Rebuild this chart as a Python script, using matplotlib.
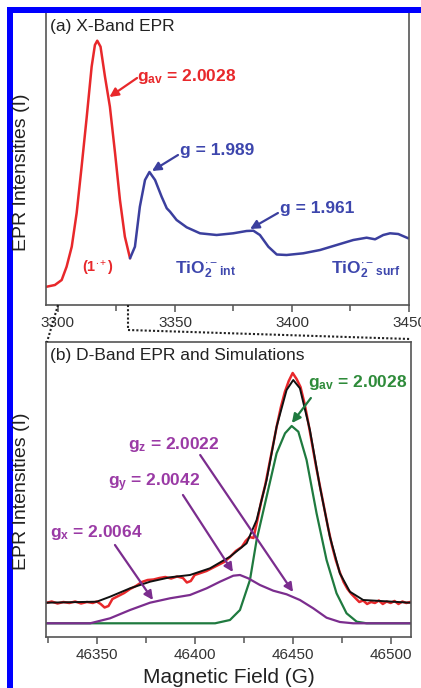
import matplotlib
matplotlib.use("Agg")
import matplotlib.pyplot as plt
from matplotlib.lines import Line2D
from matplotlib.patches import Rectangle

plt.rcParams["font.family"] = ["Liberation Sans", "DejaVu Sans"]
plt.rcParams["mathtext.fontset"] = "custom"
plt.rcParams["mathtext.rm"] = "Liberation Sans"
plt.rcParams["mathtext.bf"] = "Liberation Sans:bold"
plt.rcParams["mathtext.it"] = "Liberation Sans:italic"

# ---- panel (a): X-band spectrum ----
xband_red_field = [3295.2, 3298.7, 3301.6, 3303.7, 3305.9, 3308.0, 3310.1, 3312.3, 3314.4,
                   3315.8, 3316.8, 3318.2, 3320.1, 3322.2, 3324.4, 3326.5, 3328.6, 3330.8]
xband_red_int = [18.3, 20, 25, 38.3, 58.3, 92, 138, 188, 238.3,
                 260, 264.3, 258.3, 228.3, 198.3, 152, 105, 68.3, 46.7]

xband_blue_field = [3330.8, 3332.9, 3335.0, 3337.2, 3339.1, 3341.5, 3344.3, 3346.5, 3347.9,
                    3350.7, 3355.0, 3360.7, 3367.8, 3374.9, 3380.6, 3383.5, 3386.3, 3389.9,
                    3393.5, 3397.7, 3404.8, 3412.0, 3419.1, 3426.2, 3431.9, 3435.5, 3439.0,
                    3441.9, 3445.4, 3449.7]
xband_blue_int = [46.7, 58.3, 98.3, 125, 133, 125, 108.3, 96.7, 93.3,
                  85, 77.7, 71.7, 70, 71.7, 74, 74.3, 70, 58.3,
                  50.5, 50, 51.7, 55, 60, 65, 67.3, 65.7, 70,
                  71.7, 71, 66.7]

# ---- panel (b): D-band spectrum and simulations ----
dband_exp_field = [46324, 46327, 46330, 46333, 46336, 46339, 46342, 46345, 46348, 46350,
                   46352, 46354, 46356, 46358, 46361, 46364, 46367, 46370, 46373, 46376,
                   46379, 46382, 46385, 46388, 46391, 46394, 46396, 46398, 46400, 46403,
                   46406, 46409, 46412, 46415, 46418, 46421, 46424, 46426, 46428, 46430,
                   46432, 46434, 46436, 46438, 46440, 46442, 46444, 46446, 46448, 46450,
                   46452, 46454, 46456, 46458, 46460, 46462, 46464, 46466, 46468, 46470,
                   46472, 46474, 46476, 46478, 46480, 46482, 46484, 46486, 46488, 46490,
                   46492, 46494, 46496, 46498, 46500, 46502, 46504, 46506, 46508, 46510]
dband_exp_int = [34, 35.5, 33.5, 35, 34, 35.5, 33.5, 35, 34, 35.5,
                 33, 29.5, 31, 38, 41, 44, 48, 51, 55, 57,
                 57.5, 59, 60, 58.5, 60.5, 59, 54.5, 56, 62, 64,
                 66, 69, 72, 75, 80, 86, 90, 96, 100, 99,
                 117, 136, 152, 172, 192, 212, 230, 245, 256, 264,
                 258, 250, 234, 214, 192, 170, 150, 130, 110, 92,
                 77, 65, 55, 48, 43, 39, 35, 36.5, 33, 35,
                 34, 36.5, 33, 35.5, 34, 36, 33, 35.5, 34, 35]

dband_sim_field = [46324.1, 46350.0, 46356.8, 46367.0, 46377.2, 46387.4, 46397.6, 46407.8,
                   46418.0, 46426.5, 46431.6, 46436.7, 46441.8, 46446.9, 46450.3, 46453.7,
                   46458.8, 46463.9, 46469.0, 46474.1, 46479.2, 46486.0, 46509.9]
dband_sim_int = [34.3, 35.3, 40.3, 48.7, 55.3, 59.7, 62, 68.7,
                 80.3, 93.7, 117, 157, 210.3, 247, 257, 248.7,
                 207, 150.3, 100.3, 63.7, 45.3, 37, 34.3]

gav_field = [46324.1, 46410.4, 46418.0, 46423.1, 46428.2, 46431.6, 46436.7, 46441.8,
             46446.1, 46449.5, 46452.9, 46457.1, 46462.2, 46467.3, 46472.4, 46477.5,
             46482.7, 46487.8, 46509.9]
gav_int = [13.7, 13.7, 17, 27, 57, 97, 140.3, 183.7,
           203.7, 211, 205.3, 177, 123.7, 77, 43.7, 23.7,
           15.3, 13.7, 13.7]

rhombic_field = [46324.1, 46346.6, 46356.8, 46367.0, 46377.2, 46387.4, 46397.6, 46406.1,
                 46412.9, 46419.7, 46423.1, 46427.3, 46433.3, 46440.1, 46446.9, 46453.7,
                 46460.5, 46467.3, 46474.1, 46480.9, 46509.9]
rhombic_int = [13.7, 13.7, 18.7, 27, 34.3, 38.7, 42, 48.7,
               55.3, 61.3, 62, 58.7, 52, 46.3, 42.7, 37,
               28.7, 19.3, 15, 13.7, 13.7]

xband_ticks = [3300, 3350, 3400, 3450]
dband_ticks = [46350, 46400, 46450, 46500]

RED = "#e8282b"
BLUE = "#3b3f9e"
BLUE_TXT = "#3d46ad"
GREEN = "#1f7a3f"
GREEN_TXT = "#2e8b3a"
PURPLE = "#7b2d8e"
PURPLE_TXT = "#9a3aa5"
SPINE = "#555555"
TICK_TXT = "#333333"

W, H = 421, 688
fig = plt.figure(figsize=(W / 100, H / 100), dpi=100)
fig.patch.set_facecolor("white")


def px_axes(left, top, right, bottom):
    return fig.add_axes([left / W, 1 - bottom / H, (right - left) / W, (bottom - top) / H])


def style_axes(ax, ticks):
    for side in ax.spines.values():
        side.set_color(SPINE)
        side.set_linewidth(1.2)
    ax.set_yticks([])
    ax.set_xticks(ticks)
    ax.tick_params(axis="x", direction="out", length=5, width=1.1, color=SPINE,
                   labelsize=11, labelcolor=TICK_TXT, pad=3)
    ax.tick_params(axis="x", which="minor", direction="out", length=4, width=1.1, color=SPINE)


def arrow(ax, tail, head, color):
    ax.annotate("", xy=head, xytext=tail,
                arrowprops=dict(arrowstyle="-|>", color=color, lw=1.6, mutation_scale=13,
                                shrinkA=0, shrinkB=0))


# ---- (a) ----
ax_a = px_axes(46, 12, 409, 305)
ax_a.plot(xband_red_field, xband_red_int, color=RED, lw=1.8, solid_capstyle="round")
ax_a.plot(xband_blue_field, xband_blue_int, color=BLUE, lw=1.8, solid_capstyle="round")
ax_a.set_xlim(3294.9, 3450)
ax_a.set_ylim(0, 293)
style_axes(ax_a, xband_ticks)
ax_a.set_xticks([3325, 3375, 3425], minor=True)

ax_a.text(0.01, 0.952, "(a) X-Band EPR", transform=ax_a.transAxes, fontsize=12.5,
          color="#222222", va="center", ha="left")
ax_a.text(3333.8, 229, r"$\mathbf{g}_{\mathbf{av}}$ = 2.0028", color=RED, fontsize=12.5,
          fontweight="bold", va="center", ha="left")
arrow(ax_a, (3333.8, 227), (3322.0, 208), RED)
ax_a.text(3317.1, 37, r"(1$^{\bullet+}$)", color=RED, fontsize=10.5, fontweight="bold",
          ha="center", va="center")
ax_a.text(3352.1, 155, "g = 1.989", color=BLUE_TXT, fontsize=12.5, fontweight="bold",
          va="center", ha="left")
arrow(ax_a, (3351.3, 150), (3340.2, 134), BLUE)
ax_a.text(3394.9, 97, "g = 1.961", color=BLUE_TXT, fontsize=12.5, fontweight="bold",
          va="center", ha="left")
arrow(ax_a, (3394.0, 92), (3382.1, 76), BLUE)
ax_a.text(3350.0, 35, r"TiO$_{\mathbf{2}}^{\bullet-}{}_{\mathbf{int}}$", color=BLUE_TXT,
          fontsize=12.5, fontweight="bold", va="center", ha="left")
ax_a.text(3416.5, 35, r"TiO$_{\mathbf{2}}^{\bullet-}{}_{\mathbf{surf}}$", color=BLUE_TXT,
          fontsize=12.5, fontweight="bold", va="center", ha="left")

# ---- (b) ----
ax_b = px_axes(46, 342, 411, 637)
ax_b.plot(dband_exp_field, dband_exp_int, color=RED, lw=1.8)
ax_b.plot(dband_sim_field, dband_sim_int, color="#111111", lw=1.4)
ax_b.plot(gav_field, gav_int, color=GREEN, lw=1.6)
ax_b.plot(rhombic_field, rhombic_int, color=PURPLE, lw=1.6)
ax_b.set_xlim(46324.1, 46510.4)
ax_b.set_ylim(0, 295)
style_axes(ax_b, dband_ticks)
ax_b.set_xticks([46325, 46375, 46425, 46475], minor=True)
ax_b.set_xlabel("Magnetic Field (G)", fontsize=15, color="#222222", labelpad=4)

ax_b.text(0.012, 0.955, "(b) D-Band EPR and Simulations", transform=ax_b.transAxes,
          fontsize=12.5, color="#222222", va="center", ha="left")
ax_b.text(46457.8, 254, r"$\mathbf{g}_{\mathbf{av}}$ = 2.0028", color=GREEN_TXT, fontsize=12.5,
          fontweight="bold", va="center", ha="left")
arrow(ax_b, (46459.3, 239), (46449.6, 214), GREEN)
ax_b.text(46366.0, 192, r"$\mathbf{g}_{\mathbf{z}}$ = 2.0022", color=PURPLE_TXT, fontsize=12.5,
          fontweight="bold", va="center", ha="left")
arrow(ax_b, (46402.8, 182), (46450.2, 45), PURPLE)
ax_b.text(46355.8, 154, r"$\mathbf{g}_{\mathbf{y}}$ = 2.0042", color=PURPLE_TXT, fontsize=12.5,
          fontweight="bold", va="center", ha="left")
arrow(ax_b, (46394.0, 142), (46419.5, 65), PURPLE)
ax_b.text(46326.2, 105, r"$\mathbf{g}_{\mathbf{x}}$ = 2.0064", color=PURPLE_TXT, fontsize=12.5,
          fontweight="bold", va="center", ha="left")
arrow(ax_b, (46359.3, 92), (46378.7, 37), PURPLE)

# y labels
for yc in (172, 491):
    fig.text(22 / W, 1 - yc / H, "EPR Intensities (I)", rotation=90, fontsize=14,
             color="#222222", ha="center", va="center")


# dotted zoom connectors
def fig_line(xs, ys):
    fig.add_artist(Line2D([x / W for x in xs], [1 - y / H for y in ys],
                          transform=fig.transFigure, color="#222222", lw=1.5,
                          linestyle=(0, (1, 1))))


fig_line([58, 47], [305, 342])
fig_line([128, 128, 410], [305, 330, 339])

# blue frame of the source figure
fig.add_artist(Rectangle((7 / W, 0), 6 / W, 1 - 7 / H, transform=fig.transFigure,
                         facecolor="#0000ff", edgecolor="none"))
fig.add_artist(Rectangle((7 / W, 1 - 13 / H), 1 - 7 / W, 6 / H, transform=fig.transFigure,
                         facecolor="#0000ff", edgecolor="none"))

fig.savefig("out.png", dpi=100)
